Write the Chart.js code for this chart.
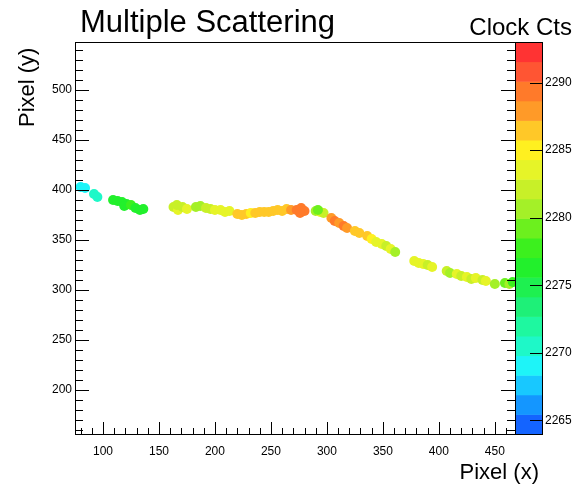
<!DOCTYPE html>
<html>
<head>
<meta charset="utf-8">
<script src="https://cdn.jsdelivr.net/npm/chart.js@4.4.1/dist/chart.umd.min.js"></script>
<style>
  body { margin: 0; background: #fff; }
  #wrap { width: 579px; height: 489px; }
</style>
</head>
<body>
<div id="wrap"><canvas id="hitChart" width="579" height="489"></canvas></div>
<script>
// hit pixels along the track
const pixelX = [
  80, 84,
  92, 95,
  109, 113, 117, 121, 119, 125, 129, 133, 136,
  163, 167, 171, 175, 166,
  183, 187, 192, 196, 200, 205, 209, 213,
  220, 224, 228, 232, 236, 240, 244, 248,
  252, 256, 260, 264, 268,
  273, 277, 280, 276,
  290, 294, 297, 292,
  304, 307, 311, 315, 318,
  325, 329,
  336, 340, 344,
  349, 353, 357, 361,
  378, 382, 386, 390, 394,
  407, 410,
  416, 420, 425, 429, 433,
  439, 442,
  450,
  459, 463, 466
];
const pixelY = [
  403, 402,
  396, 393,
  390, 389, 388, 386, 384, 385, 382, 380, 381,
  383, 380, 383, 381, 385,
  383, 384, 382, 381, 380, 380, 378, 379,
  376, 375, 376, 377, 377, 378, 378, 378,
  379, 380, 379, 381, 380,
  380, 382, 379, 377,
  379, 378, 377, 380,
  372, 369, 367, 364, 362,
  359, 357,
  354, 351, 348,
  346, 344, 341, 338,
  329, 327, 326, 325, 323,
  319, 317,
  316, 314, 313, 311, 312,
  310, 309,
  306,
  307, 306, 308
];
const clockCts = [
  2269, 2269,
  2270, 2271,
  2276, 2277, 2277, 2276, 2277, 2278, 2277, 2276, 2277,
  2282, 2283, 2282, 2283, 2282,
  2280, 2281, 2282, 2282, 2283, 2283, 2284, 2283,
  2286, 2287, 2286, 2285, 2287, 2286, 2286, 2287,
  2287, 2286, 2287, 2286, 2288,
  2289, 2290, 2289, 2289,
  2281, 2283, 2282, 2279,
  2288, 2289, 2288, 2289, 2288,
  2287, 2286,
  2286, 2285, 2284,
  2283, 2282, 2283, 2281,
  2283, 2284, 2283, 2282, 2283,
  2282, 2281,
  2283, 2282, 2283, 2282, 2283,
  2282, 2283,
  2281,
  2279, 2280, 2278
];

const xTicks = [100, 150, 200, 250, 300, 350, 400, 450];
const yTicks = [200, 250, 300, 350, 400, 450, 500];
const zTicks = [2265, 2270, 2275, 2280, 2285, 2290];

// colour palette, bottom (low) to top (high)
const paletteColors = [
  '#1464ff', '#1496ff', '#18c8ff', '#1ef4f8', '#1ef8c8',
  '#1ef8a0', '#1ef078', '#1ef050', '#22f02c', '#3cf01e',
  '#6cf01e', '#a4f028', '#c8f028', '#e6f428', '#fff020',
  '#ffc828', '#ff9a28', '#ff7a2a', '#ff5533', '#ff3333'
];

const zMin = 2264, zMax = 2293;
const fontFamily = '"Liberation Sans", Arial, Helvetica, sans-serif';

function colorFor(v) {
  let i = Math.floor((v - zMin) / (zMax - zMin) * paletteColors.length);
  i = Math.max(0, Math.min(paletteColors.length - 1, i));
  return paletteColors[i];
}

const points = pixelX.map((x, i) => ({ x: x, y: pixelY[i] }));

// ROOT-like frame: ticks inside, colour bar, titles
const rootFrame = {
  id: 'rootFrame',
  beforeDatasetsDraw(chart) {
    const ctx = chart.ctx;
    const z = chart.scales.z;
    const area = chart.chartArea;
    const n = paletteColors.length;
    ctx.save();
    for (let i = 0; i < n; i++) {
      const v0 = zMin + (zMax - zMin) * i / n;
      const v1 = zMin + (zMax - zMin) * (i + 1) / n;
      const y0 = z.getPixelForValue(v0);
      const y1 = z.getPixelForValue(v1);
      ctx.fillStyle = paletteColors[i];
      ctx.fillRect(area.right + 1, y1, 26, y0 - y1 + 0.5);
    }
    ctx.restore();
  },
  afterDraw(chart) {
    const ctx = chart.ctx;
    const area = chart.chartArea;
    const xs = chart.scales.x, ys = chart.scales.y, z = chart.scales.z;
    ctx.save();
    ctx.strokeStyle = '#000';
    ctx.lineWidth = 1;
    ctx.strokeRect(area.left + 0.5, area.top + 0.5, area.right - area.left, area.bottom - area.top);
    ctx.strokeRect(area.right + 0.5, area.top + 0.5, 27, area.bottom - area.top);

    ctx.beginPath();
    for (let v = 80; v <= xs.max; v += 10) {
      const px = Math.round(xs.getPixelForValue(v)) + 0.5;
      const len = v % 50 === 0 ? 12 : 6;
      ctx.moveTo(px, area.bottom);
      ctx.lineTo(px, area.bottom - len);
    }
    for (let v = 160; v <= ys.max; v += 10) {
      const py = Math.round(ys.getPixelForValue(v)) + 0.5;
      const len = v % 50 === 0 ? 14 : 8;
      ctx.moveTo(area.left, py);
      ctx.lineTo(area.left + len, py);
      ctx.moveTo(area.right, py);
      ctx.lineTo(area.right - len, py);
    }
    zTicks.forEach(v => {
      const py = Math.round(z.getPixelForValue(v)) + 0.5;
      ctx.moveTo(area.right + 28, py);
      ctx.lineTo(area.right + 15, py);
    });
    ctx.stroke();

    ctx.fillStyle = '#000';
    ctx.textBaseline = 'alphabetic';
    ctx.font = '31px ' + fontFamily;
    ctx.textAlign = 'left';
    ctx.fillText('Multiple Scattering', 80, 32);

    ctx.font = '24px ' + fontFamily;
    ctx.textAlign = 'right';
    ctx.fillText('Clock Cts', 572, 35);

    ctx.font = '22px ' + fontFamily;
    ctx.fillText('Pixel (x)', 539, 479);

    ctx.translate(34, 127);
    ctx.rotate(-Math.PI / 2);
    ctx.textAlign = 'left';
    ctx.fillText('Pixel (y)', 0, 0);
    ctx.restore();
  }
};

const tickFont = { family: fontFamily, size: 12 };
const plainLabel = v => String(v);

new Chart(document.getElementById('hitChart').getContext('2d'), {
  type: 'scatter',
  data: {
    datasets: [{
      label: 'Clock Cts',
      data: points,
      pointStyle: 'circle',
      pointRadius: 5,
      pointBorderWidth: 0,
      pointBackgroundColor: ctx => colorFor(clockCts[ctx.dataIndex]),
      pointBorderColor: ctx => colorFor(clockCts[ctx.dataIndex])
    }]
  },
  options: {
    responsive: false,
    animation: false,
    events: [],
    layout: { padding: { top: 42, left: 0, right: 0, bottom: 0 } },
    scales: {
      x: {
        type: 'linear',
        position: 'bottom',
        min: 75,
        max: 468,
        afterBuildTicks: s => { s.ticks = xTicks.map(v => ({ value: v })); },
        afterFit: s => { s.height = 55; },
        grid: { display: false, drawTicks: false },
        border: { display: false },
        ticks: { font: tickFont, color: '#000', padding: 10, maxRotation: 0, autoSkip: false, callback: plainLabel }
      },
      y: {
        type: 'linear',
        position: 'left',
        min: 156,
        max: 548,
        afterBuildTicks: s => { s.ticks = yTicks.map(v => ({ value: v })); },
        afterFit: s => { s.width = 75; },
        grid: { display: false, drawTicks: false },
        border: { display: false },
        ticks: { font: tickFont, color: '#000', padding: 3, autoSkip: false, callback: plainLabel }
      },
      z: {
        type: 'linear',
        position: 'right',
        min: zMin,
        max: zMax,
        afterBuildTicks: s => { s.ticks = zTicks.map(v => ({ value: v })); },
        afterFit: s => { s.width = 64; },
        grid: { display: false, drawTicks: false },
        border: { display: false },
        ticks: { font: tickFont, color: '#000', padding: 30, autoSkip: false, callback: plainLabel }
      }
    },
    plugins: {
      legend: { display: false },
      tooltip: { enabled: false }
    }
  },
  plugins: [rootFrame]
});
</script>
</body>
</html>
